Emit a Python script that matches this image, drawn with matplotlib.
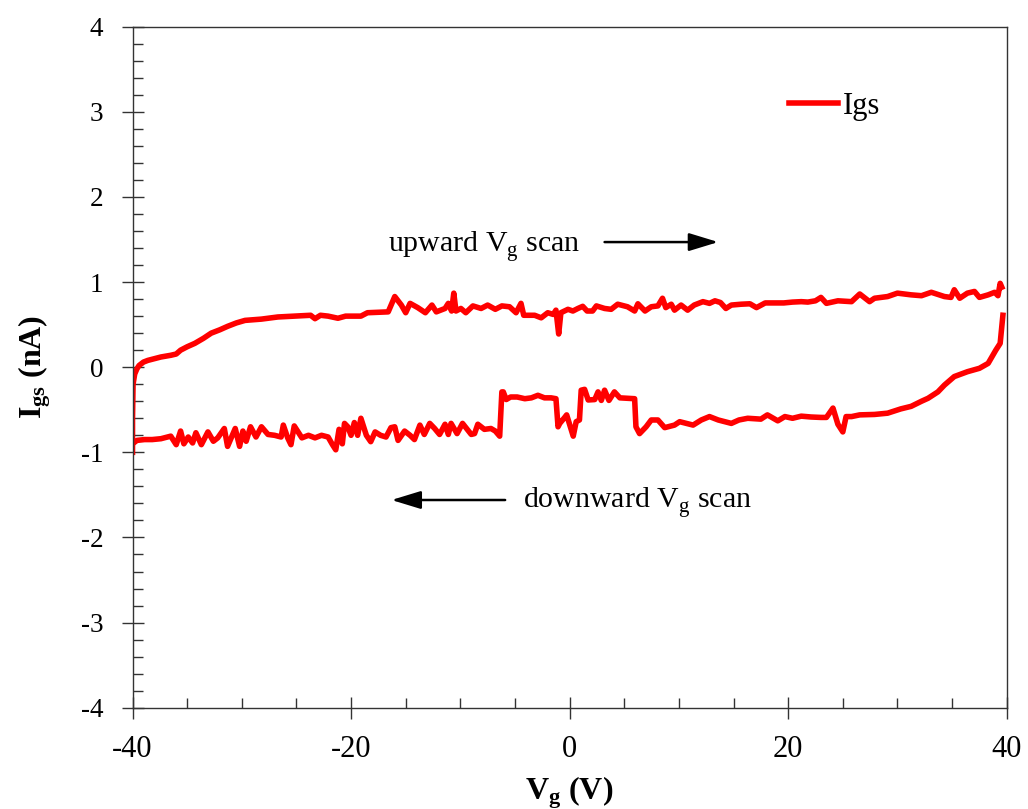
import numpy as np
import matplotlib
matplotlib.use("Agg")
from matplotlib import pyplot as plt
from matplotlib.ticker import MultipleLocator

plt.rcParams["font.family"] = ["Liberation Serif", "DejaVu Serif"]
plt.rcParams["mathtext.fontset"] = "custom"
plt.rcParams["mathtext.rm"] = "Liberation Serif"
plt.rcParams["mathtext.bf"] = "Liberation Serif:bold"
plt.rcParams["axes.unicode_minus"] = False

# upward scan (-40 -> 40)
vg_up = [-40.0, -40.0, -39.95, -39.8, -39.6, -39.4, -39.0, -38.6, -38.0, -37.4,
         -36.5, -36.0, -35.6, -35.0, -34.3, -33.5, -32.8, -32.0, -31.3, -30.5,
         -29.7, -28.2, -26.7, -25.2, -23.7, -23.3, -22.8, -22.1, -21.2, -20.5,
         -19.8, -19.1, -18.5, -17.5, -16.6, -16.0, -15.4, -15.0, -14.6, -13.9,
         -13.2, -12.6, -12.2, -11.4, -11.1, -10.8, -10.6, -10.4, -9.95, -9.5,
         -8.85, -8.1, -7.5, -6.8, -6.2, -5.5, -4.9, -4.45, -4.2, -3.2,
         -2.6, -2.0, -1.5, -1.25, -1.0, -0.8, -0.15, 0.3, 0.76, 1.2,
         1.6, 2.1, 2.45, 3.2, 3.8, 4.4, 5.3, 5.95, 6.25, 6.9,
         7.47, 8.08, 8.5, 8.8, 9.3, 9.6, 10.2, 10.8, 11.4, 12.2,
         12.8, 13.3, 13.8, 14.3, 14.8, 15.7, 16.5, 17.1, 17.9, 18.8,
         19.6, 20.4, 21.2, 21.8, 22.5, 23.0, 23.5, 24.55, 25.8, 26.55,
         27.45, 27.9, 29.1, 30.0, 31.25, 32.2, 33.1, 34.3, 34.9, 35.2,
         35.7, 36.4, 37.05, 37.5, 38.3, 38.9, 39.2, 39.4, 39.55]
ig_up = [-1.0, -0.6, -0.2, -0.08, -0.02, 0.02, 0.06, 0.08, 0.10, 0.12,
         0.14, 0.155, 0.20, 0.24, 0.28, 0.34, 0.40, 0.44, 0.48, 0.52,
         0.55, 0.565, 0.59, 0.60, 0.61, 0.57, 0.61, 0.60, 0.575, 0.60,
         0.60, 0.60, 0.64, 0.645, 0.65, 0.83, 0.73, 0.64, 0.75, 0.70,
         0.64, 0.73, 0.65, 0.69, 0.75, 0.66, 0.87, 0.66, 0.69, 0.64,
         0.72, 0.69, 0.73, 0.68, 0.72, 0.71, 0.64, 0.75, 0.61, 0.61,
         0.58, 0.64, 0.62, 0.67, 0.39, 0.64, 0.68, 0.66, 0.69, 0.715,
         0.66, 0.66, 0.72, 0.69, 0.68, 0.74, 0.71, 0.66, 0.745, 0.66,
         0.71, 0.72, 0.81, 0.70, 0.74, 0.67, 0.73, 0.67, 0.73, 0.77,
         0.75, 0.78, 0.76, 0.69, 0.73, 0.74, 0.745, 0.70, 0.755, 0.755,
         0.755, 0.765, 0.77, 0.765, 0.78, 0.82, 0.75, 0.78, 0.77, 0.86,
         0.77, 0.81, 0.83, 0.87, 0.85, 0.84, 0.88, 0.83, 0.82, 0.91,
         0.81, 0.87, 0.89, 0.82, 0.85, 0.88, 0.84, 0.985, 0.94]

# downward scan (40 -> -40)
vg_down = [39.65, 39.4, 39.0, 38.3, 37.5, 36.4, 35.2, 34.3, 33.7, 32.8,
           32.2, 31.25, 30.3, 29.1, 27.9, 26.55, 25.8, 25.3, 25.0, 24.55,
           24.1, 23.5, 23.0, 22.1, 21.2, 20.4, 19.7, 19.05, 18.1, 17.5,
           16.3, 15.5, 14.8, 13.6, 12.8, 12.05, 11.3, 10.07, 9.6, 8.7,
           8.08, 7.47, 7.0, 6.4, 6.07, 5.95, 4.6, 4.1, 3.6, 3.2,
           2.9, 2.6, 2.3, 1.7, 1.37, 1.06, 0.9, 0.6, 0.33, -0.27,
           -0.45, -0.9, -1.06, -1.25, -1.7, -2.3, -2.9, -3.5, -4.1, -4.8,
           -5.4, -5.8, -6.07, -6.2, -6.4, -6.8, -7.2, -7.8, -8.4, -8.7,
           -9.0, -9.8, -10.3, -10.85, -11.1, -11.4, -11.9, -12.35, -12.8, -13.3,
           -13.7, -14.2, -14.6, -15.1, -15.7, -16.0, -16.35, -16.8, -17.3, -17.8,
           -18.2, -18.6, -19.1, -19.4, -19.7, -20.0, -20.3, -20.6, -20.8, -21.1,
           -21.4, -21.7, -22.1, -22.7, -23.3, -23.9, -24.5, -25.2, -25.5, -25.8,
           -26.2, -26.4, -27.0, -27.6, -28.2, -28.7, -29.2, -29.6, -29.9, -30.2,
           -30.6, -31.3, -31.6, -32.2, -32.6, -33.1, -33.7, -34.2, -34.5, -34.9,
           -35.3, -35.6, -36.0, -36.5, -37.4, -38.2, -38.9, -39.6, -40.0]
ig_down = [0.61, 0.28, 0.20, 0.045, -0.013, -0.053, -0.11, -0.21, -0.29, -0.365,
           -0.40, -0.46, -0.49, -0.54, -0.555, -0.56, -0.58, -0.58, -0.76, -0.67,
           -0.48, -0.59, -0.59, -0.585, -0.575, -0.60, -0.58, -0.63, -0.56, -0.61,
           -0.60, -0.62, -0.66, -0.62, -0.58, -0.62, -0.68, -0.64, -0.68, -0.71,
           -0.62, -0.62, -0.70, -0.78, -0.70, -0.37, -0.36, -0.29, -0.39, -0.27,
           -0.39, -0.29, -0.38, -0.385, -0.26, -0.27, -0.62, -0.64, -0.81, -0.56,
           -0.59, -0.66, -0.70, -0.37, -0.36, -0.36, -0.33, -0.36, -0.37, -0.35,
           -0.35, -0.38, -0.29, -0.29, -0.81, -0.75, -0.72, -0.73, -0.67, -0.78,
           -0.79, -0.66, -0.78, -0.66, -0.79, -0.67, -0.79, -0.72, -0.66, -0.79,
           -0.68, -0.85, -0.80, -0.75, -0.86, -0.70, -0.71, -0.82, -0.80, -0.76,
           -0.875, -0.80, -0.60, -0.80, -0.65, -0.80, -0.70, -0.66, -0.90, -0.73,
           -0.97, -0.91, -0.82, -0.80, -0.83, -0.80, -0.83, -0.69, -0.91, -0.83,
           -0.68, -0.82, -0.80, -0.79, -0.70, -0.82, -0.70, -0.87, -0.75, -0.93,
           -0.72, -0.93, -0.72, -0.83, -0.87, -0.76, -0.91, -0.77, -0.89, -0.82,
           -0.90, -0.75, -0.91, -0.81, -0.84, -0.85, -0.85, -0.86, -0.90]

fig = plt.figure(figsize=(10.28, 8.09), dpi=100)
ax = fig.add_axes([0.1289, 0.1252, 0.8504, 0.8418])
ax.plot(vg_up, ig_up, color="#ff0000", lw=4.0, label="Igs", solid_joinstyle="round")
ax.plot(vg_down, ig_down, color="#ff0000", lw=4.0, solid_joinstyle="round")

ax.set_xlim(-40, 40)
ax.set_ylim(-4, 4)
ax.xaxis.set_major_locator(MultipleLocator(20))
ax.xaxis.set_minor_locator(MultipleLocator(5))
ax.yaxis.set_major_locator(MultipleLocator(1))
ax.yaxis.set_minor_locator(MultipleLocator(0.2))
ax.tick_params(which="major", direction="inout", length=16, width=1.0, color="#333333")
ax.tick_params(which="minor", direction="in", length=7, width=1.0, color="#333333")
ax.tick_params(axis="x", labelsize=22, pad=12)
ax.tick_params(axis="y", labelsize=19.5, pad=13)
for s in ax.spines.values():
    s.set_linewidth(1.0)
    s.set_color("#333333")

ax.set_xlabel(r"$\mathbf{V_g}$ (V)", fontsize=23, fontweight="bold", labelpad=7)
ax.set_ylabel(r"$\mathbf{I_{gs}}$ (nA)", fontsize=23, fontweight="bold", labelpad=20)

arrow = dict(arrowstyle="-|>,head_length=1.8,head_width=0.55", color="black", lw=1.8,
             shrinkA=0, shrinkB=0)
ax.text(-16.6, 1.35, r"upward V$_\mathregular{g}$ scan", fontsize=21.5, va="baseline")
ax.annotate("", xy=(13.6, 1.47), xytext=(3.2, 1.47), arrowprops=arrow)
ax.text(-4.3, -1.65, r"downward V$_\mathregular{g}$ scan", fontsize=21.5, va="baseline")
ax.annotate("", xy=(-16.3, -1.56), xytext=(-5.9, -1.56), arrowprops=arrow)

ax.legend(loc="upper left", bbox_to_anchor=(0.72, 0.945), frameon=False, fontsize=22,
          handlelength=1.6, handletextpad=0.15)

fig.savefig("out.png", dpi=100)
